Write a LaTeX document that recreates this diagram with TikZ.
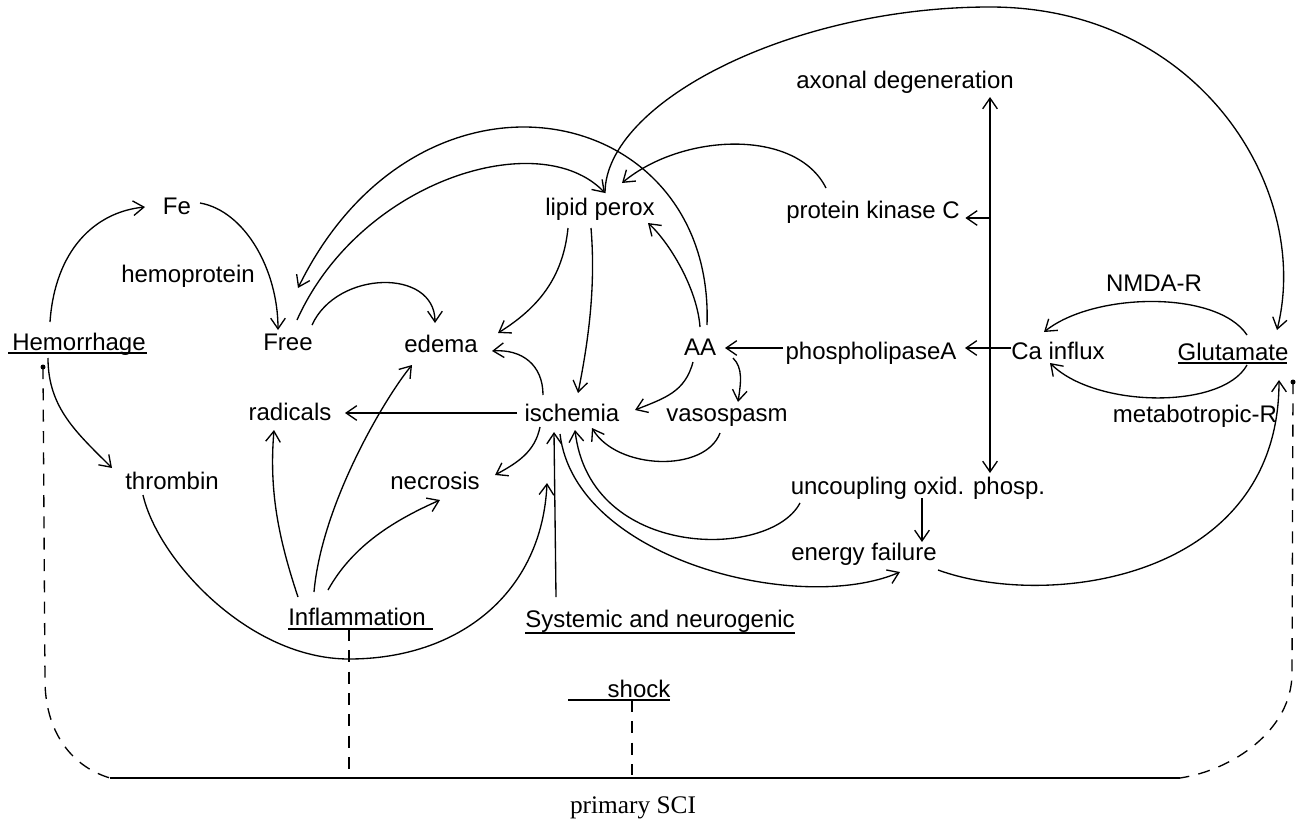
\documentclass[tikz,border=0pt]{standalone}
\usepackage{fontspec}
\setmainfont{Liberation Sans}
\newfontfamily\scifont{Liberation Serif}
\usetikzlibrary{arrows.meta,calc}

\tikzset{every picture/.style={line width=1pt}}
\tikzset{
  lbl/.style={anchor=base,inner sep=1.5pt,font=\fontsize{18}{21}\selectfont},
  arr/.style={-{Straight Barb[length=8pt,width=11pt]}},
  dsh/.style={dash pattern={on 9pt off 7pt}},
  uline/.style={line width=1.2pt},
}

\begin{document}
\begin{tikzpicture}[x=0.75pt,y=0.75pt,yscale=-1,xscale=1]
\useasboundingbox (0,0) rectangle (1298,824);

% Text Node
\node [lbl] (axdeg) at (905,89) {axonal degeneration};
\node [lbl] (lipid) at (600,215) {lipid perox};
\node [lbl] (pkc) at (873,218) {protein kinase C};
\node [lbl] (fe) at (177,214) {Fe};
\node [lbl] (hemo) at (188,282) {hemoprotein};
\node [lbl] (nmda) at (1154,291) {NMDA-R};
\node [lbl] (hem) at (79,350) {Hemorrhage};
\node [lbl] (free) at (288,350) {Free};
\node [lbl] (edema) at (441,352) {edema};
\node [lbl] (aa) at (700,355) {AA};
\node [lbl] (pla) at (871,359) {phospholipaseA};
\node [lbl] (ca) at (1058,359) {Ca influx};
\node [lbl] (glu) at (1233,360) {Glutamate};
\node [lbl] (rad) at (290,420) {radicals};
\node [lbl] (isch) at (572,421) {ischemia};
\node [lbl] (vaso) at (727,421) {vasospasm};
\node [lbl] (metab) at (1195,422) {metabotropic-R};
\node [lbl] (thr) at (172,489) {thrombin};
\node [lbl] (necr) at (435,489) {necrosis};
\node [lbl] (unc) at (918,494) {uncoupling oxid. phosp.};
\node [lbl] (energy) at (864,560) {energy failure};
\node [lbl] (infl) at (357,625) {Inflammation};
\node [lbl] (sys) at (660,627) {Systemic and neurogenic};
\node [lbl] (shock) at (639,697) {shock};
\node [anchor=base,inner sep=1.5pt,font=\scifont\fontsize{19}{22}\selectfont] (sci) at (633,813) {primary SCI};

%Underlines
\draw [uline] ($(hem.base)+(-71,3)$) -- ($(hem.base)+(68,3)$);
\draw [uline] ($(glu.base)+(-55,3)$) -- ($(glu.base)+(54,3)$);
\draw [uline] ($(infl.base)+(-69,4)$) -- ($(infl.base)+(76,4)$);
\draw [uline] ($(sys.base)+(-135,6)$) -- ($(sys.base)+(135,6)$);
\draw [uline] ($(shock.base)+(-71,3)$) -- ($(shock.base)+(31,3)$);

%Curve Lines
\draw [arr] ($(hem.base)+(-29,-28)$) .. controls +(5,-72) and +(-50,5) .. ($(fe.base)+(-32,-7)$);
\draw [arr] ($(fe.base)+(23,-11)$) .. controls +(45,8) and +(0,-60) .. ($(free.base)+(-10,-20)$);
\draw [arr] ($(hem.base)+(-31,8)$) .. controls +(0,50) and +(-35,-35) .. ($(thr.base)+(-60,-21)$);
\draw [arr] ($(aa.base)+(7,-30)$) .. controls +(8,-225) and +(122,-248) .. ($(free.base)+(10,-62)$);
\draw [arr] ($(free.base)+(9,-30)$) .. controls +(63,-140) and +(-65,-68) .. ($(lipid.base)+(5,-22)$);
\draw [arr] ($(free.base)+(24,-25)$) .. controls +(25,-55) and +(0,-55) .. ($(edema.base)+(-6,-29)$);
\draw [arr] ($(lipid.base)+(-32,13)$) .. controls +(-5,50) and +(40,-25) .. ($(edema.base)+(57,-19)$);
\draw [arr] ($(lipid.base)+(-9,13)$) .. controls +(5,60) and +(10,-50) .. ($(isch.base)+(6,-28)$);
\draw [arr] ($(aa.base)+(0,-28)$) .. controls +(-3,-40) and +(20,18) .. ($(lipid.base)+(48,8)$);
\draw [arr] ($(isch.base)+(-29,-26)$) .. controls +(0,-30) and +(30,-2) .. ($(edema.base)+(51,-1)$);
\draw [arr] ($(aa.base)+(-7,7)$) .. controls +(-8,30) and +(30,-12) .. ($(isch.base)+(63,-11)$);
\draw [arr] ($(aa.base)+(33,3)$) .. controls +(10,10) and +(3,-20) .. ($(vaso.base)+(11,-19)$);
\draw [arr] ($(vaso.base)+(-7,12)$) .. controls +(-15,40) and +(25,42) .. ($(isch.base)+(20,7)$);
\draw [arr] ($(isch.base)+(-32,6)$) .. controls +(-5,25) and +(22,-12) .. ($(necr.base)+(60,-14)$);
\draw [arr] ($(thr.base)+(-29,6)$) .. controls +(15,65) and +(-100,0) .. ($(infl.base)+(-8,34)$) .. controls +(110,0) and +(-5,110) .. ($(isch.base)+(-25,62)$);
\draw [arr] ($(infl.base)+(-59,-28)$) .. controls +(-20,-60) and +(-5,60) .. ($(rad.base)+(-16,10)$);
\draw [arr] ($(infl.base)+(-43,-33)$) .. controls +(8,-90) and +(-25,30) .. ($(edema.base)+(-29,13)$);
\draw [arr] ($(infl.base)+(-29,-35)$) .. controls +(25,-45) and +(-45,20) .. ($(necr.base)+(5,11)$);
\draw [arr] ($(isch.base)+(-12,13)$) .. controls +(15,126) and +(-100,43) .. ($(energy.base)+(36,12)$);
\draw [arr] ($(unc.base)+(-118,9)$) .. controls +(-30,57) and +(15,130) .. ($(isch.base)+(3,9)$);
\draw [arr] ($(energy.base)+(74,10)$) .. controls +(110,40) and +(0,200) .. ($(glu.base)+(46,20)$);
\draw [arr] ($(pkc.base)+(-47,-30)$) .. controls +(-30,-60) and +(60,-50) .. ($(lipid.base)+(22,-32)$);
\draw [arr] ($(lipid.base)+(5,-22)$) .. controls +(0,-90) and +(-200,0) .. (990,7) .. controls +(210,0) and +(35,-140) .. ($(glu.base)+(44,-30)$);
\draw [arr] ($(glu.base)+(14,-25)$) .. controls +(-30,-45) and +(50,-40) .. ($(ca.base)+(-14,-27)$);
\draw [arr] ($(glu.base)+(14,5)$) .. controls +(-25,45) and +(45,45) .. ($(ca.base)+(-8,4)$);

%Straight Lines
\draw [arr] ($(pla.base)+(-88,-11)$) -- ($(aa.base)+(25,-7)$);
\draw [arr] ($(isch.base)+(-55,-8)$) -- ($(rad.base)+(55,-7)$);
\draw [arr] ($(sys.base)+(-104,-30)$) -- ($(isch.base)+(-18,11)$);
\draw [arr] ($(unc.base)+(4,4)$) -- ($(energy.base)+(58,-18)$);
\draw [{Straight Barb[length=8pt,width=11pt]}-{Straight Barb[length=8pt,width=11pt]}] ($(axdeg.base)+(85,8)$) coordinate (vtop) -- ($(unc.base)+(72,-21)$) coordinate (vbot);
\draw [arr] (vtop |- pkc.base) -- ($(pkc.base east)+(3,0)$);
\draw [arr] ($(ca.base)+(-47,-11)$) -- ($(pla.base)+(94,-11)$);

%primary SCI line
\coordinate (bl) at ($(sci.base)+(-523,-35)$);
\coordinate (br) at ($(sci.base)+(547,-35)$);
\draw [line width=1.5pt] (bl) -- (br);
\coordinate (hemdot) at ($(hem.base)+(-36,17)$);
\coordinate (gludot) at ($(glu.base)+(60,22)$);
\draw [dsh] (hemdot) -- ++(2,313) .. controls +(0,50) and +(-40,-12) .. (bl);
\draw [dsh] (gludot) -- ++(-1,291) .. controls +(0,57) and +(53,-8) .. (br);
\fill (hemdot) circle (2.5);
\fill (gludot) circle (2.5);
\draw [dsh] ($(infl.base)+(-8,4)$) -- ($(infl.base)+(-8,145)$);
\draw [dsh] ($(shock.base)+(-7,3)$) -- ($(shock.base)+(-7,78)$);

\end{tikzpicture}
\end{document}
